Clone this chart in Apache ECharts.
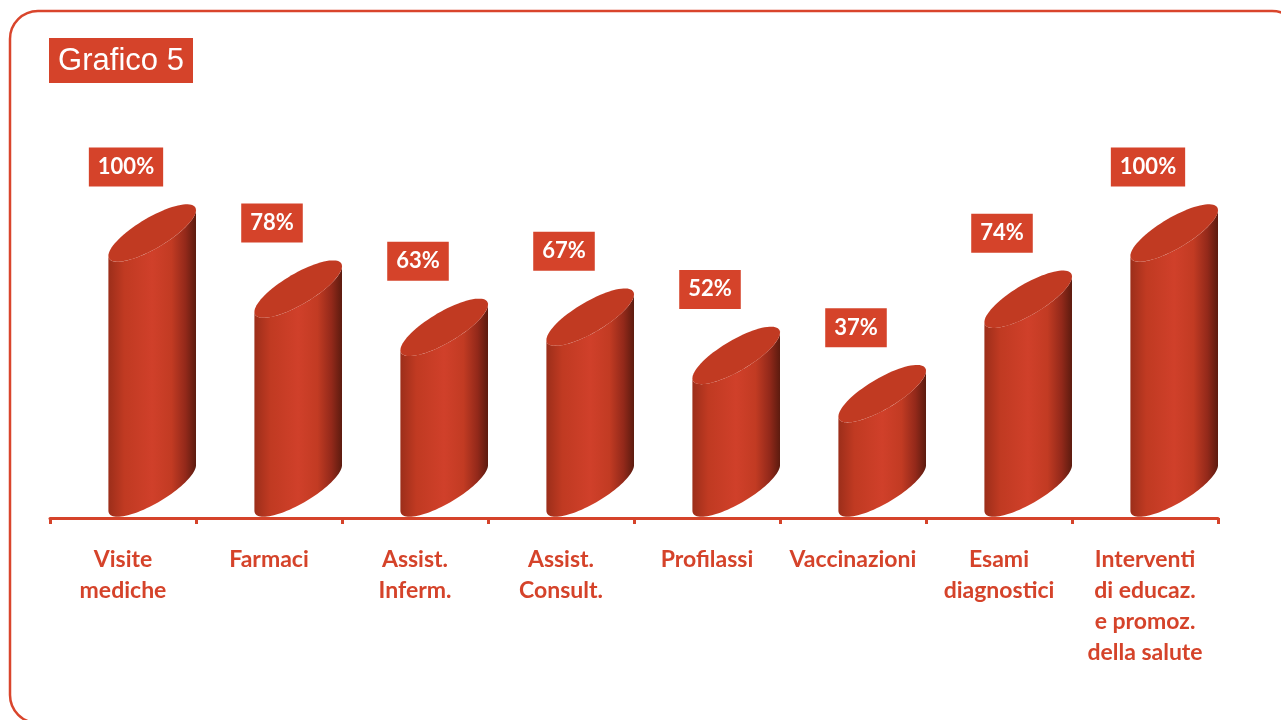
<!DOCTYPE html>
<html>
<head>
<meta charset="utf-8">
<title>Grafico 5</title>
<script src="https://cdn.jsdelivr.net/npm/echarts@6/dist/echarts.min.js"></script>
<style>
  html, body { margin: 0; padding: 0; background: #fff; }
  #chart { width: 1281px; height: 720px; }
</style>
</head>
<body>
<div id="chart"></div>
<script>
// dati
var categorie = ['Visite\nmediche', 'Farmaci', 'Assist.\nInferm.', 'Assist.\nConsult.',
                 'Profilassi', 'Vaccinazioni', 'Esami\ndiagnostici',
                 'Interventi\ndi educaz.\ne promoz.\ndella salute'];
var percentuali = [100, 78, 63, 67, 52, 37, 74, 100];

var rosso = '#d5432a';

var myChart = echarts.init(document.getElementById('chart'));

// punti di un'ellisse inclinata (tappo del cilindro)
function ellipsePts(cx, cy, a, k, b, t0, t1, n) {
    var pts = [];
    for (var j = 0; j <= n; j++) {
        var t = t0 + (t1 - t0) * j / n;
        pts.push([cx + a * Math.cos(t), cy - k * a * Math.cos(t) + b * Math.sin(t)]);
    }
    return pts;
}

function renderCilindro(params, api) {
    var i = api.value(0);
    var top = api.coord([i, api.value(1)]);
    var base = api.coord([i, 0]);
    var band = api.size([1, 0])[0];
    var a = band * 0.3;
    var cx = top[0] + band * 0.2;
    var k = 0.52;
    var b = band * 0.12;
    var yt = top[1], yb = base[1];

    // corpo: lato sinistro, arco inferiore, lato destro, bordo anteriore del tappo
    var body = [[cx - a, yt + k * a]];
    body = body.concat(ellipsePts(cx, yb, a, k, b, Math.PI, 0, 48));
    body = body.concat(ellipsePts(cx, yt, a, k, b, 0, Math.PI, 48));

    var cap = ellipsePts(cx, yt, a, k, b, 0, Math.PI * 2, 80);

    return {
        type: 'group',
        children: [{
            type: 'polygon',
            shape: { points: body },
            style: {
                fill: new echarts.graphic.LinearGradient(0, 0, 1, 0, [
                    { offset: 0, color: '#9c2e1a' },
                    { offset: 0.18, color: '#c03a22' },
                    { offset: 0.5, color: '#d0402a' },
                    { offset: 0.72, color: '#c23b23' },
                    { offset: 0.88, color: '#93291a' },
                    { offset: 1, color: '#5c1b0f' }
                ])
            }
        }, {
            type: 'polygon',
            shape: { points: cap },
            style: { fill: '#c13a22' }
        }, {
            type: 'text',
            style: {
                text: api.value(1) + '%',
                x: top[0] + 3,
                y: yt - 66,
                align: 'center',
                verticalAlign: 'middle',
                fill: '#fff',
                font: 'bold 22px Lato, "Open Sans", sans-serif',
                backgroundColor: rosso,
                padding: [9, 9, 8, 9]
            }
        }]
    };
}

var option = {
    animation: false,
    graphic: [{
        type: 'rect',
        shape: { x: 10, y: 11, width: 1290, height: 712, r: 28 },
        style: { fill: 'none', stroke: '#d9452c', lineWidth: 2.5 },
        z: 0
    }, {
        type: 'rect',
        shape: { x: 49, y: 38, width: 144, height: 45 },
        style: { fill: rosso }
    }, {
        type: 'text',
        x: 121, y: 61,
        style: {
            text: 'Grafico 5',
            align: 'center',
            verticalAlign: 'middle',
            fill: '#fff',
            font: '31px "Liberation Sans", Arial, sans-serif'
        }
    }],
    grid: { left: 50, right: 63, top: 233, bottom: 232 },
    xAxis: {
        type: 'category',
        data: categorie,
        offset: 30,
        axisLine: { onZero: false, lineStyle: { color: rosso, width: 3 } },
        axisTick: { show: true, length: 6, lineStyle: { color: rosso, width: 3 } },
        axisLabel: {
            interval: 0,
            color: rosso,
            fontWeight: 'bold',
            fontSize: 23,
            lineHeight: 31,
            fontFamily: 'Lato, "Open Sans", sans-serif',
            margin: 26
        }
    },
    yAxis: { type: 'value', min: 0, max: 100, show: false },
    series: [{
        type: 'custom',
        renderItem: renderCilindro,
        clip: false,
        encode: { x: 0, y: 1 },
        data: percentuali.map(function (v, i) { return [i, v]; })
    }]
};

myChart.setOption(option);
</script>
</body>
</html>
